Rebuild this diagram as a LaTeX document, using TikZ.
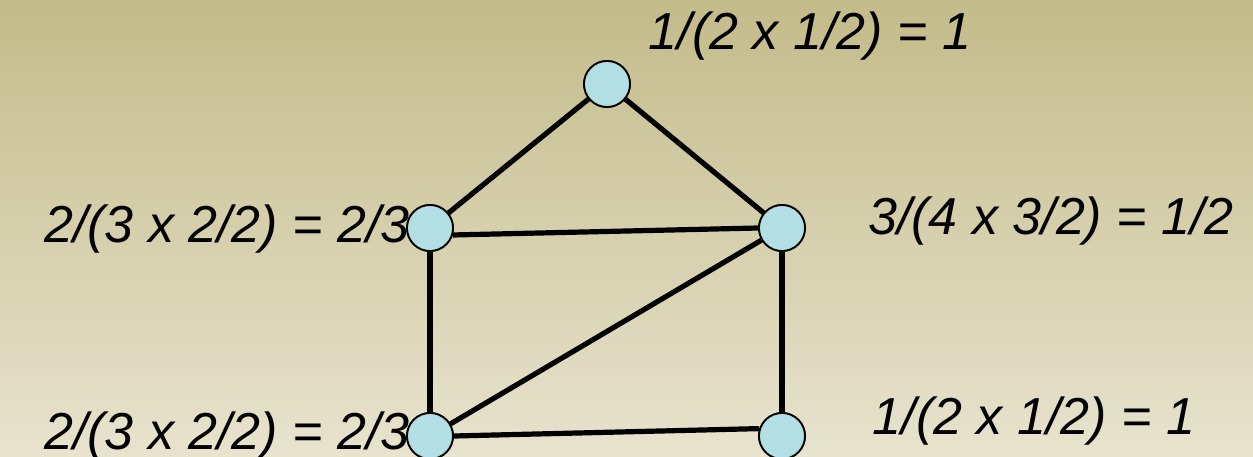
\documentclass[tikz,border=0pt]{standalone}
\usepackage{fontspec}
\setmainfont{Liberation Sans}
\definecolor{bgtop}{HTML}{C4BB8A}
\definecolor{bgbot}{HTML}{E7E3CE}
\definecolor{nodefill}{HTML}{B2DFE3}
\tikzset{
  vert/.style={circle, draw=black, line width=1.8bp, fill=nodefill, minimum size=46bp, inner sep=0pt},
  edge/.style={line width=5.2bp, black},
  lab/.style={inner sep=0pt, font=\fontsize{52bp}{62bp}\selectfont\itshape}
}
\begin{document}
\begin{tikzpicture}[x=1bp,y=-1bp]
\shade[top color=bgtop, bottom color=bgbot] (0,0) rectangle (1253,457);
\useasboundingbox (0,0) rectangle (1253,457);
\node[vert] (T) at (607,84) {};
\node[vert] (L) at (430,228) {};
\node[vert] (R) at (782,228) {};
\node[vert] (BL) at (430,436) {};
\node[vert] (BR) at (782,436) {};
\draw[edge] (T) -- (L);
\draw[edge] (T) -- (R);
\draw[edge] (L.-17) -- (R.180);
\draw[edge] (L) -- (BL);
\draw[edge] (R) -- (BR);
\draw[edge] (R) -- (BL);
\draw[edge] (BL.east) -- (BR.162);
\node[vert] at (T) {};
\node[vert] at (L) {};
\node[vert] at (R) {};
\node[vert] at (BL) {};
\node[vert] at (BR) {};
\node[lab, anchor=base] (lT) at (810,50) {1/(2 x 1/2) = 1};
\node[lab, anchor=base east] (lL) at (410,243) {2/(3 x 2/2) = 2/3};
\node[lab, anchor=base east] (lBL) at (410,450) {2/(3 x 2/2) = 2/3};
\node[lab, anchor=base] (lR) at (1051,235) {3/(4 x 3/2) = 1/2};
\node[lab, anchor=base] (lBR) at (1034,435) {1/(2 x 1/2) = 1};
\end{tikzpicture}
\end{document}
